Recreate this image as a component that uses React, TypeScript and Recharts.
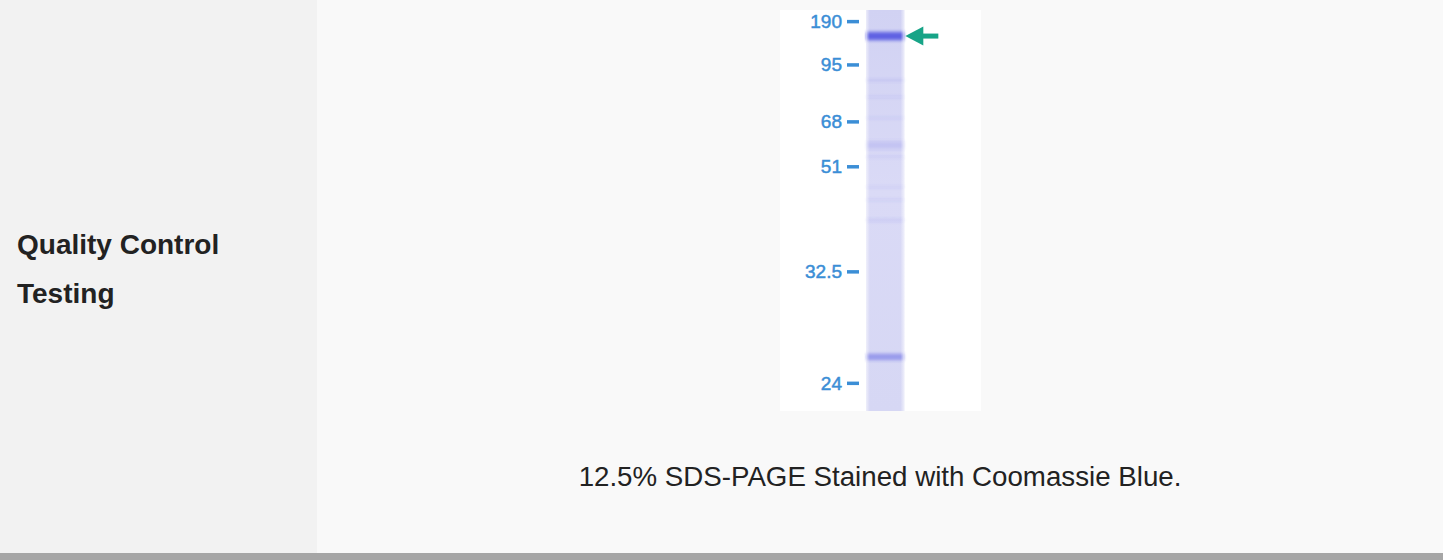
import React from 'react';
import {
  ComposedChart,
  ReferenceArea,
  Scatter,
  XAxis,
  YAxis,
} from 'recharts';

// marker ladder (kDa) and their relative mobility in the gel (0 = top, 1 = bottom)
const markerLabels = ['190', '95', '68', '51', '32.5', '24'];
const markerRf = [0.029, 0.137, 0.279, 0.391, 0.653, 0.931];

// bands seen in the sample lane: mobility, relative intensity, half thickness
const bandRf = [0.065, 0.175, 0.217, 0.269, 0.337, 0.367, 0.441, 0.474, 0.524, 0.865];
const bandIntensity = [1, 0.1, 0.07, 0.07, 0.16, 0.08, 0.07, 0.07, 0.09, 0.5];
const bandHalf = [0.016, 0.007, 0.006, 0.006, 0.016, 0.006, 0.006, 0.006, 0.008, 0.013];

// the arrow points at the target protein band
const arrowTarget = [{ lane: 1, rf: 0.065 }];

const BLUE = '#3b8ed6';
const GREEN = '#17a487';

const MarkerTick = (props: any) => {
  const { x, y, payload } = props;
  const i = markerRf.indexOf(payload.value);
  return (
    <g>
      <text
        x={x - 24}
        y={y}
        textAnchor="end"
        dominantBaseline="central"
        fill={BLUE}
        stroke={BLUE}
        strokeWidth={0.5}
        fontSize={19}
        fontFamily="'Liberation Sans', Arial, sans-serif"
      >
        {markerLabels[i]}
      </text>
      <line x1={x - 19} x2={x - 7} y1={y} y2={y} stroke={BLUE} strokeWidth={3.5} />
    </g>
  );
};

const Arrow = (props: any) => {
  const { cx, cy } = props;
  const tip = cx + 1;
  return (
    <g>
      <polygon
        points={`${tip},${cy} ${tip + 18},${cy - 9.5} ${tip + 18},${cy + 9.5}`}
        fill={GREEN}
      />
      <rect x={tip + 16} y={cy - 2.5} width={17} height={5} fill={GREEN} />
    </g>
  );
};

const GelChart = () => (
  <ComposedChart
    width={201}
    height={401}
    margin={{ top: 0, right: 0, bottom: 0, left: 0 }}
    style={{ background: '#ffffff' }}
  >
    <defs>
      <linearGradient id="laneFill" x1="0" y1="0" x2="0" y2="1">
        <stop offset="0%" stopColor="#d1d2f3" />
        <stop offset="45%" stopColor="#dadaf6" />
        <stop offset="100%" stopColor="#d6d7f4" />
      </linearGradient>
      <linearGradient id="laneSide" x1="0" y1="0" x2="1" y2="0">
        <stop offset="0%" stopColor="#ffffff" stopOpacity={0.6} />
        <stop offset="10%" stopColor="#ffffff" stopOpacity={0} />
        <stop offset="90%" stopColor="#ffffff" stopOpacity={0} />
        <stop offset="100%" stopColor="#ffffff" stopOpacity={0.6} />
      </linearGradient>
      <linearGradient id="bandFill" x1="0" y1="0" x2="0" y2="1">
        <stop offset="0%" stopColor="#4a4de0" stopOpacity={0} />
        <stop offset="35%" stopColor="#4a4de0" stopOpacity={0.85} />
        <stop offset="65%" stopColor="#4a4de0" stopOpacity={0.85} />
        <stop offset="100%" stopColor="#4a4de0" stopOpacity={0} />
      </linearGradient>
      <filter id="soft" x="-10%" y="-50%" width="120%" height="200%">
        <feGaussianBlur stdDeviation="1" />
      </filter>
    </defs>
    <XAxis type="number" dataKey="lane" domain={[0, 3]} allowDataOverflow hide />
    <YAxis
      type="number"
      dataKey="rf"
      domain={[0, 1]}
      reversed
      allowDataOverflow
      width={86}
      ticks={markerRf}
      interval={0}
      axisLine={false}
      tickLine={false}
      tickSize={0}
      tickMargin={0}
      tick={<MarkerTick />}
    />
    <ReferenceArea x1={0} x2={1} y1={0} y2={1} fill="url(#laneFill)" fillOpacity={1} stroke="none" />
    {bandRf.map((rf, i) => (
      <ReferenceArea
        key={i}
        x1={0}
        x2={1}
        y1={rf - bandHalf[i]}
        y2={rf + bandHalf[i]}
        fill="url(#bandFill)"
        fillOpacity={bandIntensity[i]}
        stroke="none"
        filter="url(#soft)"
      />
    ))}
    <ReferenceArea x1={0} x2={1} y1={0} y2={1} fill="url(#laneSide)" fillOpacity={1} stroke="none" />
    <Scatter data={arrowTarget} dataKey="rf" shape={<Arrow />} isAnimationActive={false} />
  </ComposedChart>
);

export default function App() {
  const font = "'Liberation Sans', Arial, Helvetica, sans-serif";
  return (
    <div
      style={{
        position: 'absolute',
        left: 0,
        top: 0,
        width: 1443,
        height: 560,
        background: '#f9f9f9',
        fontFamily: font,
        overflow: 'hidden',
      }}
    >
      <div
        style={{
          position: 'absolute',
          left: 0,
          top: 0,
          width: 317,
          height: 553,
          background: '#f2f2f2',
        }}
      />
      <div
        style={{
          position: 'absolute',
          left: 17,
          top: 220,
          fontSize: 28,
          lineHeight: '49px',
          fontWeight: 'bold',
          color: '#222222',
        }}
      >
        Quality Control
        <br />
        Testing
      </div>
      <div style={{ position: 'absolute', left: 780, top: 10 }}>
        <GelChart />
      </div>
      <div
        style={{
          position: 'absolute',
          left: 317,
          width: 1126,
          top: 461,
          textAlign: 'center',
          fontSize: 27.7,
          lineHeight: '32px',
          color: '#222222',
        }}
      >
        12.5% SDS-PAGE Stained with Coomassie Blue.
      </div>
      <div
        style={{
          position: 'absolute',
          left: 0,
          top: 553,
          width: 1443,
          height: 7,
          background: '#a6a6a6',
        }}
      />
    </div>
  );
}
